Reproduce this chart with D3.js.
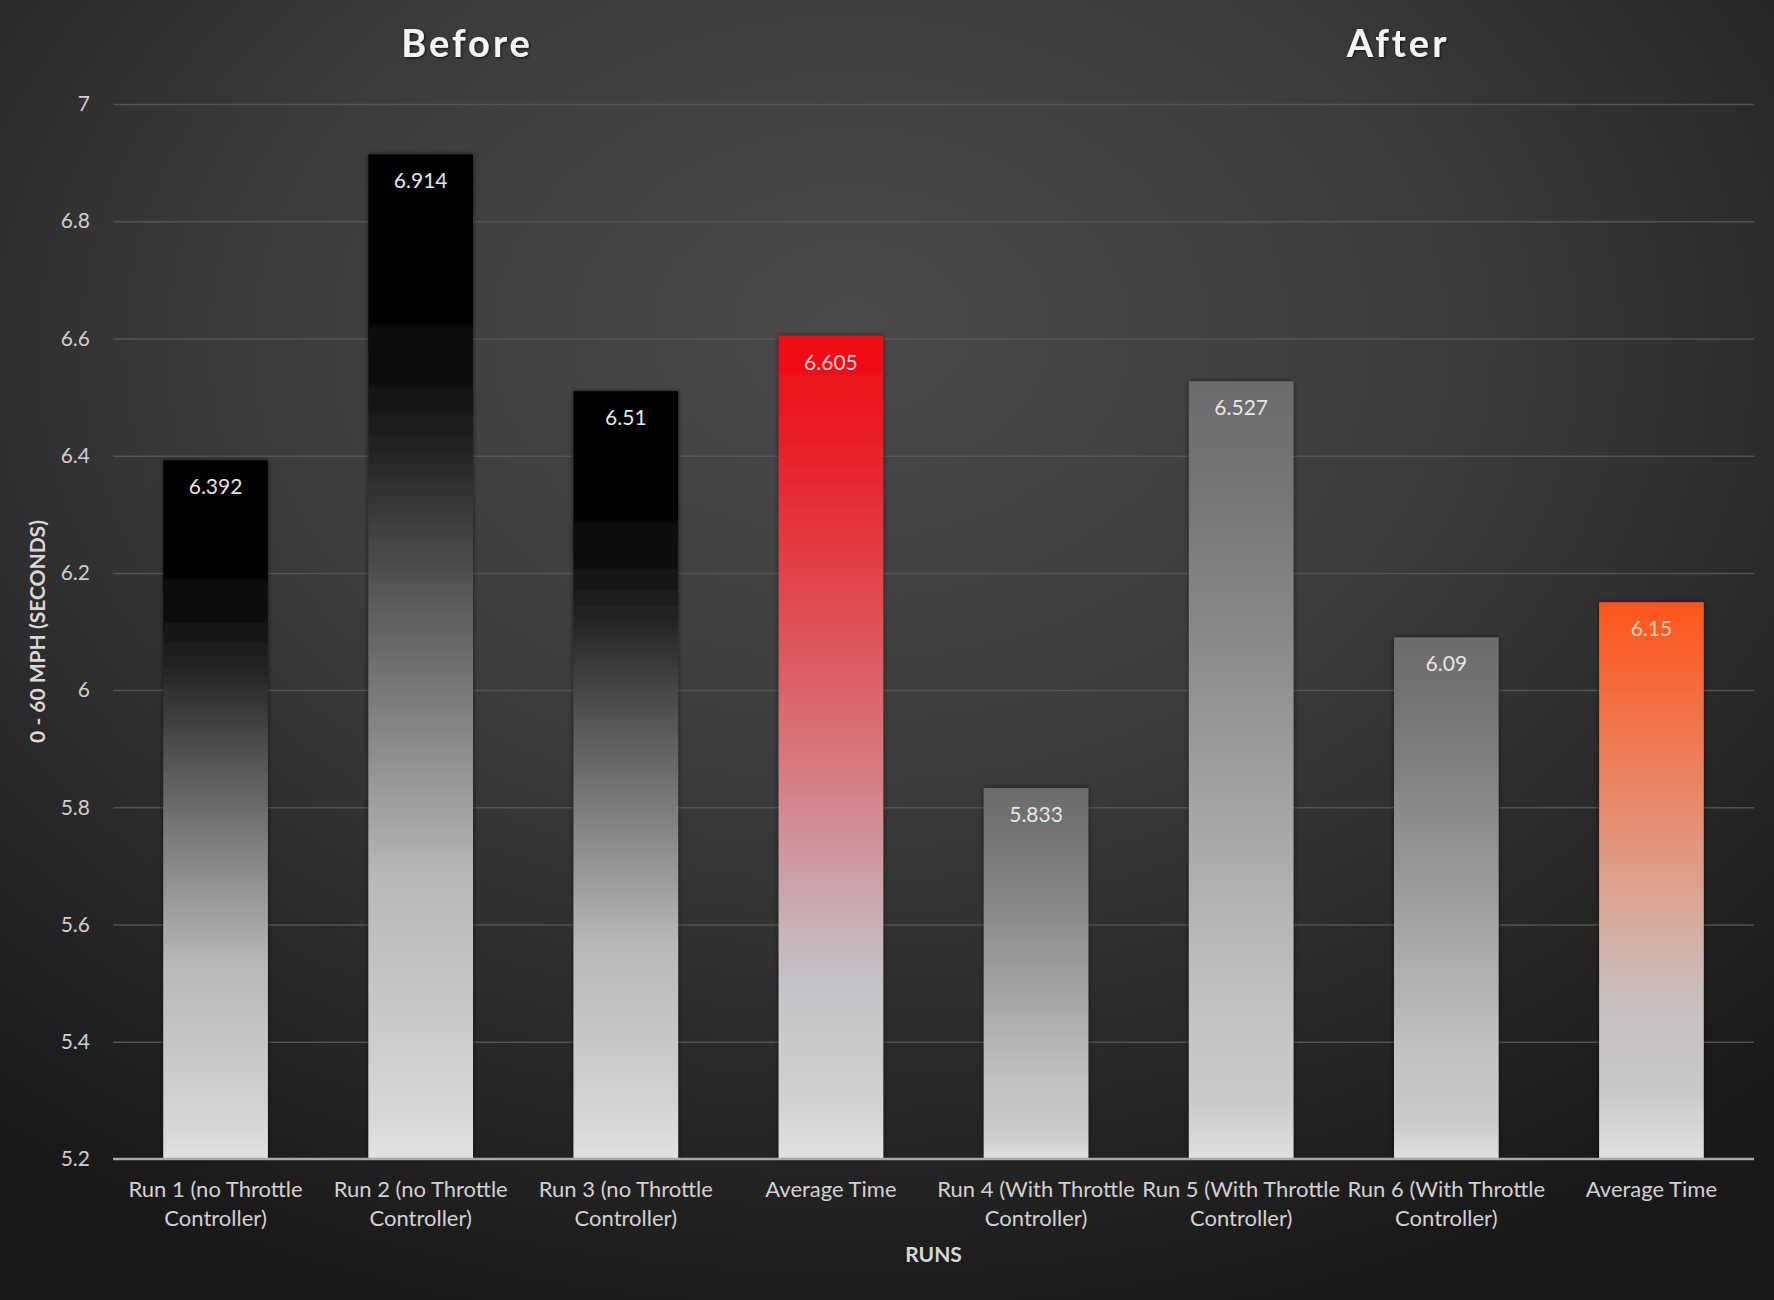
<!DOCTYPE html>
<html>
<head>
<meta charset="utf-8">
<script src="https://cdn.jsdelivr.net/npm/d3@7"></script>
<style>
  html, body { margin: 0; padding: 0; background: #222; }
  svg { display: block; }
  text { font-family: Lato, "Open Sans", "Noto Sans", sans-serif; }
</style>
</head>
<body>
<svg id="chart" width="1774" height="1300"></svg>
<script>
// ---- data ----
const categories = [
  "Run 1 (no Throttle|Controller)",
  "Run 2 (no Throttle|Controller)",
  "Run 3 (no Throttle|Controller)",
  "Average Time",
  "Run 4 (With Throttle|Controller)",
  "Run 5 (With Throttle|Controller)",
  "Run 6 (With Throttle|Controller)",
  "Average Time"
];
const values = [6.392, 6.914, 6.51, 6.605, 5.833, 6.527, 6.09, 6.15];
const valueLabels = ["6.392", "6.914", "6.51", "6.605", "5.833", "6.527", "6.09", "6.15"];
const barStyle = ["black", "black", "black", "red", "gray", "gray", "gray", "orange"];
const yTicks = [5.2, 5.4, 5.6, 5.8, 6, 6.2, 6.4, 6.6, 6.8, 7];
const groupTitles = ["Before", "After"];

// ---- layout ----
const W = 1774, H = 1300;
const margin = {left: 113, right: 20, top: 104, bottom: 141};
const svg = d3.select("#chart");
const defs = svg.append("defs");

// background
const bg = defs.append("radialGradient").attr("id", "bg")
  .attr("cx", "48%").attr("cy", "28%").attr("r", "75%")
  .attr("fx", "48%").attr("fy", "25%");
bg.append("stop").attr("offset", "0").attr("stop-color", "#4a4a4a");
bg.append("stop").attr("offset", "0.45").attr("stop-color", "#3b3b3b");
bg.append("stop").attr("offset", "1").attr("stop-color", "#191919");
svg.append("rect").attr("width", W).attr("height", H).attr("fill", "url(#bg)");

// bar gradients
const gradStops = {
  black: [[0, "#000"], [0.14, "#020202"], [0.22, "#0e0e0e"], [0.3, "#252525"], [0.45, "#5c5c5c"], [0.6, "#8f8f8f"], [0.72, "#b8b8b8"], [0.85, "#c8c8c8"], [0.96, "#d8d8d8"], [1, "#e2e2e2"]],
  red: [[0, "#f00a12"], [0.15, "#e8222c"], [0.35, "#de5058"], [0.52, "#d67880"], [0.66, "#cca0a8"], [0.78, "#c4c2c6"], [0.92, "#cfcfcf"], [1, "#e2e2e2"]],
  gray: [[0, "#6c6c6c"], [0.12, "#737373"], [0.35, "#8c8c8c"], [0.6, "#aaaaaa"], [0.8, "#c2c2c2"], [0.93, "#cbcbcb"], [1, "#e0e0e0"]],
  orange: [[0, "#ff561a"], [0.15, "#f56a3c"], [0.35, "#e8886a"], [0.55, "#d8a898"], [0.72, "#c8c0c0"], [0.88, "#c9c9c9"], [1, "#e2e2e2"]]
};
Object.entries(gradStops).forEach(([k, stops]) => {
  const g = defs.append("linearGradient").attr("id", "g-" + k)
    .attr("x1", 0).attr("y1", 0).attr("x2", 0).attr("y2", 1);
  stops.forEach(([o, c]) => g.append("stop").attr("offset", o).attr("stop-color", c));
});
const shadow = defs.append("filter").attr("id", "shadow")
  .attr("x", "-10%").attr("y", "-5%").attr("width", "120%").attr("height", "110%");
shadow.append("feDropShadow").attr("dx", 0).attr("dy", 0).attr("stdDeviation", 2.5)
  .attr("flood-color", "#000").attr("flood-opacity", 0.6);
const tshadow = defs.append("filter").attr("id", "tshadow");
tshadow.append("feDropShadow").attr("dx", 1).attr("dy", 1).attr("stdDeviation", 1.5)
  .attr("flood-color", "#000").attr("flood-opacity", 0.7);

const x = d3.scaleBand()
  .domain(d3.range(categories.length))
  .range([margin.left, W - margin.right])
  .paddingInner(0.49).paddingOuter(0.245);
const y = d3.scaleLinear().domain([5.2, 7]).range([H - margin.bottom, margin.top]);

// gridlines
svg.append("g")
  .attr("transform", `translate(${margin.left},0)`)
  .call(d3.axisLeft(y).tickValues(yTicks).tickSize(-(W - margin.left - margin.right)).tickFormat(""))
  .call(g => g.select(".domain").remove())
  .call(g => g.selectAll(".tick line").attr("stroke", "#5a5a5a").attr("stroke-width", 1.5)
    .attr("stroke-opacity", d => d === 5.2 ? 0 : 0.85));

// y tick labels
svg.append("g")
  .attr("transform", `translate(${margin.left},0)`)
  .call(d3.axisLeft(y).tickValues(yTicks).tickSize(0).tickPadding(23).tickFormat(d => d3.format("")(+d.toFixed(1))))
  .call(g => g.select(".domain").remove())
  .call(g => g.selectAll(".tick text").attr("fill", "#cfcfcf").attr("font-size", 21)
    .attr("font-family", "Lato, 'Open Sans', sans-serif"));

// bars
svg.append("g").selectAll("rect").data(values).join("rect")
  .attr("x", (d, i) => x(i))
  .attr("y", d => y(d))
  .attr("width", x.bandwidth())
  .attr("height", d => y(5.2) - y(d))
  .attr("fill", (d, i) => `url(#g-${barStyle[i]})`)
  .attr("filter", "url(#shadow)");

// value labels
svg.append("g").selectAll("text").data(values).join("text")
  .attr("x", (d, i) => x(i) + x.bandwidth() / 2)
  .attr("y", d => y(d) + 34)
  .attr("text-anchor", "middle")
  .attr("fill", (d, i) => barStyle[i] === "red" ? "#f4c8c8" : (barStyle[i] === "orange" ? "#ffd0b8" : "#e6e6e6"))
  .attr("font-size", 21)
  .text((d, i) => valueLabels[i]);

// x axis line
svg.append("line")
  .attr("x1", margin.left).attr("x2", W - margin.right)
  .attr("y1", y(5.2)).attr("y2", y(5.2))
  .attr("stroke", "#a8a8a8").attr("stroke-width", 2.5);

// x labels
const xl = svg.append("g").selectAll("text").data(categories).join("text")
  .attr("x", (d, i) => x(i) + x.bandwidth() / 2)
  .attr("y", y(5.2) + 38)
  .attr("text-anchor", "middle")
  .attr("fill", "#d2d2d2")
  .attr("font-size", 22);
xl.each(function(d) {
  const parts = d.split("|");
  const t = d3.select(this);
  parts.forEach((p, k) => {
    t.append("tspan").attr("x", t.attr("x")).attr("dy", k === 0 ? 0 : 29).text(p);
  });
});

// axis titles
svg.append("text")
  .attr("x", margin.left + (W - margin.left - margin.right) / 2)
  .attr("y", y(5.2) + 103)
  .attr("text-anchor", "middle").attr("fill", "#d8d8d8")
  .attr("font-size", 21).attr("font-weight", "bold")
  .text("RUNS");

svg.append("text")
  .attr("transform", `translate(45, ${(y(5.2) + y(7)) / 2}) rotate(-90)`)
  .attr("text-anchor", "middle").attr("fill", "#d8d8d8")
  .attr("font-size", 21).attr("font-weight", "bold")
  .text("0 - 60 MPH (SECONDS)");

// group titles
const titleX = [467, 1398];
svg.append("g").selectAll("text").data(groupTitles).join("text")
  .attr("x", (d, i) => titleX[i])
  .attr("y", 57)
  .attr("text-anchor", "middle")
  .attr("fill", "#f4f4f4")
  .attr("font-size", 38).attr("font-weight", "bold")
  .attr("letter-spacing", 3)
  .attr("filter", "url(#tshadow)")
  .text(d => d);
</script>
</body>
</html>
